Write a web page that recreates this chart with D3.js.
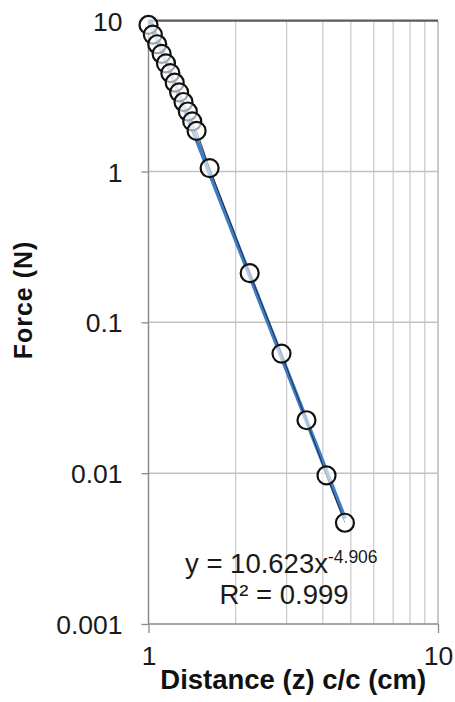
<!DOCTYPE html>
<html>
<head>
<meta charset="utf-8">
<script src="https://cdn.jsdelivr.net/npm/d3@7"></script>
<style>
  html, body { margin: 0; padding: 0; background: #fff; }
  svg { display: block; font-family: "Liberation Sans", Arial, sans-serif; }
</style>
</head>
<body>
<svg id="chart" width="455" height="702"></svg>
<script>
// Measured separation (centre to centre, cm) and force (N)
const distance = [1.000, 1.035, 1.072, 1.110, 1.149, 1.190, 1.232, 1.276, 1.321, 1.367, 1.416, 1.466,
                  1.626, 2.236, 2.880, 3.513, 4.120, 4.770];
const force    = [9.37, 8.09, 6.98, 6.03, 5.21, 4.49, 3.88, 3.35, 2.89, 2.50, 2.15, 1.86,
                  1.054, 0.212, 0.0621, 0.02244, 0.00966, 0.00469];

// Power-law fit  y = a * x^b
const fitA = 10.623;
const fitB = -4.906;
const fitR2 = "0.999";

const xTicks = [1, 10];
const yTicks = [0.001, 0.01, 0.1, 1, 10];
const xTickLabels = ["1", "10"];
const yTickLabels = ["0.001", "0.01", "0.1", "1", "10"];

const svg = d3.select("#chart");
const plotL = 148.5, plotR = 438, plotT = 20.7, plotB = 624;

const x = d3.scaleLog().domain([1, 10]).range([plotL, plotR]);
const y = d3.scaleLog().domain([0.001, 10]).range([plotB, plotT]);

// Vertical gridlines at every integer 2..10
const xMinor = d3.range(2, 11);
svg.append("g").selectAll("line").data(xMinor).join("line")
  .attr("x1", d => x(d)).attr("x2", d => x(d))
  .attr("y1", plotT).attr("y2", plotB)
  .attr("stroke", d => d === 10 ? "#a6a6a6" : "#c9c9c9")
  .attr("stroke-width", 1.2);

// Horizontal gridlines at decades
svg.append("g").selectAll("line").data(yTicks.filter(d => d > 0.001 && d < 10)).join("line")
  .attr("x1", plotL).attr("x2", plotR)
  .attr("y1", d => y(d)).attr("y2", d => y(d))
  .attr("stroke", "#c2c2c2").attr("stroke-width", 1.5);

// Top decade line
svg.append("line")
  .attr("x1", plotL).attr("x2", plotR)
  .attr("y1", y(10)).attr("y2", y(10))
  .attr("stroke", "#5a5a5a").attr("stroke-width", 2.2);

// Axes
const xAxis = d3.axisBottom(x).tickValues(xTicks).tickSize(9).tickFormat((d, i) => xTickLabels[i]);
const yAxis = d3.axisLeft(y).tickValues(yTicks).tickSize(7).tickFormat((d, i) => yTickLabels[i]);

const gx = svg.append("g").attr("transform", `translate(0,${plotB})`).call(xAxis);
const gy = svg.append("g").attr("transform", `translate(${plotL},0)`).call(yAxis);

[gx, gy].forEach(g => {
  g.select(".domain").attr("stroke", "#8a8a8a").attr("stroke-width", 1.5);
  g.selectAll(".tick line").attr("stroke", "#8a8a8a").attr("stroke-width", 1.3);
  g.selectAll(".tick text")
    .attr("fill", "#1a1a1a")
    .style("font-size", "26.5px")
    .style("font-family", "'Liberation Sans', Arial, sans-serif");
});
gx.select(".domain").attr("d", `M${plotL},0H${plotR}`);
gy.select(".domain").attr("d", `M0,${plotB}V${plotT}`);
gx.selectAll(".tick text").attr("y", 22).attr("dy", "0.71em");
gy.selectAll(".tick text").attr("x", -26).attr("dy", "0.36em");
gy.selectAll(".tick").filter(d => d === 10).select("line").remove();

// Plot clip
svg.append("clipPath").attr("id", "plot-clip")
  .append("rect").attr("x", plotL).attr("y", plotT).attr("width", plotR - plotL).attr("height", plotB - plotT);

// Trendline
const xMax = d3.max(distance);
const trendX = d3.range(0, 101).map(i => Math.pow(10, Math.log10(xMax) * i / 100));
const trend = d3.line().x(d => x(d)).y(d => y(fitA * Math.pow(d, fitB)));
svg.append("path")
  .datum(trendX)
  .attr("clip-path", "url(#plot-clip)")
  .attr("d", trend)
  .attr("fill", "none")
  .attr("stroke", "#3f7cc4")
  .attr("stroke-width", 4.2);

// Series line through the measured points
const pts = distance.map((d, i) => [d, force[i]]);
svg.append("path")
  .datum(pts)
  .attr("d", d3.line().x(d => x(d[0])).y(d => y(d[1])))
  .attr("fill", "none")
  .attr("stroke", "#1d2633")
  .attr("stroke-width", 0.9);

// Markers
svg.append("g").selectAll("circle").data(pts).join("circle")
  .attr("cx", d => x(d[0]))
  .attr("cy", d => y(d[1]))
  .attr("r", 9)
  .attr("fill", "#fff")
  .attr("fill-opacity", 0.62)
  .attr("stroke", "#111")
  .attr("stroke-width", 2.2);

// Fit equation
const eq = svg.append("text")
  .attr("x", 185).attr("y", 573)
  .attr("fill", "#1a1a1a")
  .style("font-size", "27.5px");
eq.append("tspan").text(`y = ${fitA}x`);
eq.append("tspan").attr("dy", -10).style("font-size", "17.5px").text(fitB.toFixed(3));

svg.append("text")
  .attr("x", 284).attr("y", 604)
  .attr("text-anchor", "middle")
  .attr("fill", "#1a1a1a")
  .style("font-size", "27.5px")
  .text(`R² = ${fitR2}`);

// Axis titles
svg.append("text")
  .attr("x", (plotL + plotR) / 2).attr("y", 689)
  .attr("text-anchor", "middle")
  .attr("fill", "#111")
  .style("font-size", "27.5px").style("font-weight", "bold")
  .text("Distance (z) c/c (cm)");

svg.append("text")
  .attr("transform", "translate(32,300) rotate(-90)")
  .attr("text-anchor", "middle")
  .attr("fill", "#111")
  .style("font-size", "25px").style("font-weight", "bold")
  .style("letter-spacing", "1px")
  .text("Force (N)");
</script>
</body>
</html>
